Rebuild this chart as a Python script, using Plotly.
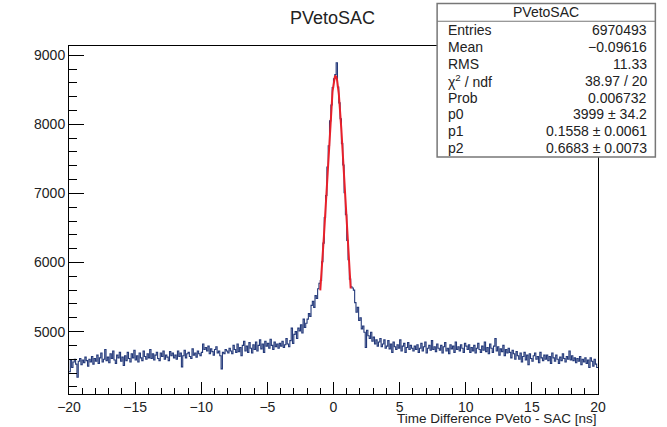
import numpy as np
import plotly.graph_objects as go

# ---------------- data ----------------
x_min, x_max, n_bins = -20.0, 20.0, 400

counts = [
    # -20 .. -18
    4420, 4590, 4480, 4560, 4600, 4530, 4340, 4570, 4610, 4520, 4590, 4550, 4630, 4580, 4500, 4600, 4560, 4640, 4530, 4610,
    # -18 .. -16
    4570, 4660, 4540, 4620, 4690, 4560, 4600, 4740, 4580, 4630, 4550, 4680, 4610, 4720, 4590, 4540, 4660, 4620, 4700, 4570,
    # -16 .. -14
    4630, 4510, 4650, 4580, 4700, 4610, 4560, 4680, 4620, 4730, 4590, 4650, 4560, 4690, 4620, 4580, 4720, 4640, 4600, 4680,
    # -14 .. -12
    4620, 4740, 4610, 4680, 4590, 4660, 4700, 4610, 4580, 4690, 4640, 4720, 4600, 4660, 4630, 4580, 4710, 4650, 4690, 4620,
    # -12 .. -10
    4660, 4600, 4720, 4640, 4690, 4490, 4650, 4730, 4620, 4680, 4700, 4640, 4610, 4750, 4660, 4690, 4630, 4720, 4680, 4650,
    # -10 .. -8
    4700, 4820, 4740, 4770, 4720, 4790, 4680, 4750, 4710, 4660, 4740, 4780, 4690, 4720, 4650, 4460, 4700, 4680, 4740, 4720,
    # -8 .. -6
    4690, 4760, 4720, 4680, 4800, 4740, 4700, 4820, 4710, 4770, 4650, 4800, 4860, 4720, 4790, 4700, 4840, 4760, 4690, 4810,
    # -6 .. -4
    4740, 4850, 4720, 4800, 4880, 4750, 4820, 4700, 4860, 4790, 4830, 4760, 4890, 4800, 4740, 4850, 4780, 4820, 4760, 4830,
    # -4 .. -2
    4790, 4860, 4770, 4810, 4900, 4820, 4780, 4870, 5050, 4830, 4960, 5000, 4900, 5050, 5010, 5100, 4980, 5180, 5060, 5120,
    # -2 .. 0
    5180, 5260, 5220, 5380, 5440, 5350, 5520, 5480, 5620, 5700, 5740, 6010, 6280, 6650, 6970, 7380, 7690, 8050, 8280, 8530,
    # 0 .. 2
    8660, 8720, 8890, 8540, 8310, 8080, 7720, 7410, 7010, 6690, 6320, 6040, 5760, 5650, 5630, 5600, 5420, 5280, 5350, 5160,
    # 2 .. 4
    5200, 5040, 5080, 4990, 4770, 5020, 4940, 4900, 4990, 4860, 4920, 4820, 4880, 4790, 4850, 4900, 4780, 4820, 4880, 4760,
    # 4 .. 6
    4790, 4870, 4750, 4820, 4700, 4850, 4780, 4740, 4810, 4760, 4880, 4720, 4790, 4830, 4700, 4770, 4840, 4740, 4800, 4760,
    # 6 .. 8
    4720, 4790, 4740, 4810, 4700, 4760, 4830, 4720, 4780, 4850, 4690, 4760, 4800, 4730, 4870, 4740, 4780, 4710, 4820, 4760,
    # 8 .. 10
    4730, 4800, 4690, 4780, 4840, 4720, 4760, 4680, 4810, 4750, 4790, 4700, 4850, 4740, 4780, 4720, 4810, 4760, 4700, 4830,
    # 10 .. 12
    4790, 4740, 4810, 4700, 4770, 4720, 4800, 4690, 4760, 4830, 4740, 4700, 4790, 4730, 4850, 4710, 4770, 4680, 4820, 4760,
    # 12 .. 14
    4700, 4790, 4900, 4720, 4780, 4660, 4750, 4710, 4800, 4650, 4740, 4690, 4760, 4700, 4620, 4730, 4680, 4600, 4710, 4650,
    # 14 .. 16
    4600, 4690, 4560, 4640, 4700, 4590, 4660, 4520, 4680, 4610, 4570, 4650, 4690, 4600, 4640, 4550, 4700, 4620, 4580, 4660,
    # 16 .. 18
    4600, 4660, 4580, 4640, 4540, 4690, 4620, 4570, 4660, 4600, 4540, 4630, 4580, 4680, 4610, 4560, 4640, 4600, 4720, 4590,
    # 18 .. 20
    4650, 4580, 4620, 4550, 4610, 4570, 4640, 4520, 4600, 4560, 4620, 4540, 4590, 4480, 4620, 4570, 4500, 4600, 4530, 4480,
]

# fit (values from the stats box) and fit range / offset
fit_p0, fit_p1, fit_p2 = 3999.0, 0.1558, 0.6683
fit_offset = 4700.0
fit_lo, fit_hi = -1.0, 1.3

stats_title = "PVetoSAC"
stats_labels = ["Entries", "Mean", "RMS", "χ<sup>2</sup> / ndf", "Prob", "p0", "p1", "p2"]
stats_values = ["6970493", "−0.09616", "11.33", "38.97 / 20", "0.006732",
                "3999 ± 34.2", "0.1558 ± 0.0061", "0.6683 ± 0.0073"]

x_title = "Time Difference PVeto - SAC [ns]"
plot_title = "PVetoSAC"
x_ticks = [-20, -15, -10, -5, 0, 5, 10, 15, 20]
y_ticks = [5000, 6000, 7000, 8000, 9000]
y_range = [4097, 9133]

# ---------------- figure ----------------
W, H = 667, 427
L, R, T, B = 69.3, 597.7, 46.0, 397.3


def px2x(px):
    return (px - L) / (R - L)


def py2y(py):
    return (B - py) / (B - T)


edges = np.linspace(x_min, x_max, n_bins + 1)
y_step = list(counts) + [counts[-1]]

fit_x = np.linspace(fit_lo, fit_hi, 200)
fit_y = fit_offset + fit_p0 * np.exp(-0.5 * ((fit_x - fit_p1) / fit_p2) ** 2)

font = "Liberation Sans, Arial, Helvetica, sans-serif"

fig = go.Figure()
fig.add_trace(go.Scatter(x=edges, y=y_step, mode="lines", line_shape="hv",
                         line=dict(color="#23397a", width=1.1), showlegend=False,
                         hoverinfo="skip"))
fig.add_trace(go.Scatter(x=fit_x, y=fit_y, mode="lines",
                         line=dict(color="#e8202a", width=2), showlegend=False,
                         hoverinfo="skip"))

fig.update_xaxes(range=[x_min, x_max], tickvals=x_ticks, ticks="inside", ticklen=12,
                 tickcolor="black", tickwidth=1,
                 minor=dict(dtick=1, tick0=0, ticks="inside", ticklen=6, tickcolor="black"),
                 showline=True, linecolor="black", linewidth=1, mirror=True,
                 showgrid=False, zeroline=False,
                 tickfont=dict(family=font, size=14, color="#222"))
fig.update_yaxes(range=y_range, tickvals=y_ticks, ticks="inside", ticklen=15,
                 tickcolor="black", tickwidth=1,
                 minor=dict(dtick=200, tick0=0, ticks="inside", ticklen=8, tickcolor="black"),
                 showline=True, linecolor="black", linewidth=1, mirror=True,
                 showgrid=False, zeroline=False,
                 tickfont=dict(family=font, size=14, color="#222"))

shapes = [dict(type="rect", xref="paper", yref="paper",
               x0=px2x(437), x1=px2x(655), y0=py2y(158), y1=py2y(3),
               fillcolor="white", line=dict(color="#777", width=1.5), layer="above"),
          dict(type="line", xref="paper", yref="paper",
               x0=px2x(437), x1=px2x(655), y0=py2y(21), y1=py2y(21),
               line=dict(color="#777", width=1.2), layer="above")]

annotations = [
    dict(text=plot_title, xref="paper", yref="paper", x=px2x(333), y=py2y(18),
         xanchor="center", yanchor="middle", showarrow=False,
         font=dict(family=font, size=18, color="#222")),
    dict(text=x_title, xref="paper", yref="paper", x=px2x(598), y=py2y(413),
         xanchor="right", yanchor="top", showarrow=False, borderpad=0,
         font=dict(family=font, size=13.5, color="#222")),
    dict(text=stats_title, xref="paper", yref="paper", x=px2x(546), y=py2y(12),
         xanchor="center", yanchor="middle", showarrow=False,
         font=dict(family=font, size=14, color="#222")),
]
row_y = [30, 47, 64, 81, 98, 115, 132, 149]
for lab, val, yy in zip(stats_labels, stats_values, row_y):
    annotations.append(dict(text=lab, xref="paper", yref="paper", x=px2x(446), y=py2y(yy),
                            xanchor="left", yanchor="middle", showarrow=False,
                            font=dict(family=font, size=14, color="#222")))
    annotations.append(dict(text=val, xref="paper", yref="paper", x=px2x(649), y=py2y(yy),
                            xanchor="right", yanchor="middle", showarrow=False,
                            font=dict(family=font, size=14, color="#222")))

fig.update_layout(width=W, height=H, margin=dict(l=L, r=W - R, t=T, b=H - B),
                  paper_bgcolor="white", plot_bgcolor="white",
                  shapes=shapes, annotations=annotations, showlegend=False)

fig.write_html("out.html")
